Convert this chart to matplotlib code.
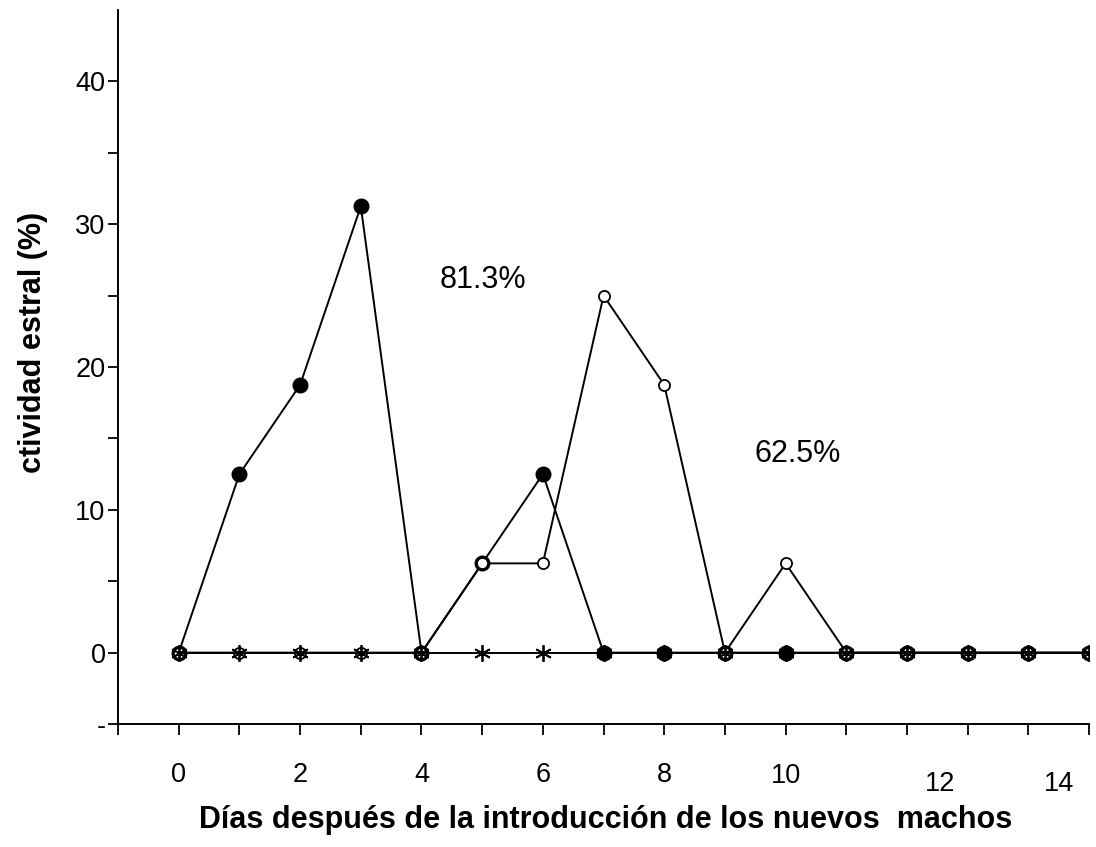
import matplotlib
matplotlib.use("Agg")
import matplotlib.pyplot as plt

plt.rcParams['font.family'] = ['Liberation Sans', 'DejaVu Sans']

# data
days = list(range(0, 16))
filled = [0, 12.5, 18.75, 31.25, 0, 6.25, 12.5, 0, 0, 0, 0, 0, 0, 0, 0, 0]
opened = [0, 0, 0, 0, 0, 6.25, 6.25, 25, 18.75, 0, 6.25, 0, 0, 0, 0, 0]
stars = [0] * 16

ytick_pos = [-5, 0, 10, 20, 30, 40]
ytick_lab = ['-', '0', '10', '20', '30', '40']
yminor = [5, 15, 25, 35]
xlab_pos = [0, 2, 4, 6, 8, 10, 12.55, 14.5]
xlab_txt = ['0', '2', '4', '6', '8', '10', '12', '14']
xlab_drop = [0, 0, 0, 0, 0, 0.2, 1, 1]

fig = plt.figure(figsize=(10.96, 8.47), dpi=100)
ax = fig.add_axes([0.1077, 0.1452, 0.886, 0.843])

ax.plot(days, filled, color='black', lw=1.4, marker='o', ms=10.5,
        mfc='black', mec='black', zorder=3)
ax.plot(days, opened, color='black', lw=1.4, marker='o', ms=8,
        mfc='white', mec='black', mew=1.3, zorder=4)
ax.plot(days, stars, color='black', lw=1.4, marker=(6, 2, 0), ms=12,
        mec='black', mew=1.3, zorder=5)

ax.text(5.02, 26.1, '81.3%', fontsize=22, ha='center', va='center')
ax.text(10.2, 13.9, '62.5%', fontsize=22, ha='center', va='center')

ax.set_xlim(-1, 15)
ax.set_ylim(-5, 45)
ax.spines['top'].set_visible(False)
ax.spines['right'].set_visible(False)
ax.spines['left'].set_linewidth(1.4)
ax.spines['bottom'].set_linewidth(1.4)

ax.set_xticks(range(-1, 16))
ax.set_xticklabels([])
ax.tick_params(axis='x', direction='out', length=8, width=1.3)
for xp, t, d in zip(xlab_pos, xlab_txt, xlab_drop):
    ax.annotate(t, xy=(xp, -5), xycoords='data', xytext=(0, -27 - d * 7),
                textcoords='offset points', ha='center', va='top',
                fontsize=19.5, annotation_clip=False)

ax.set_yticks(ytick_pos)
ax.set_yticklabels(ytick_lab, fontsize=19.5)
ax.set_yticks(yminor, minor=True)
ax.tick_params(axis='y', which='both', direction='out', length=7, width=1.3, pad=2)

fig.text(0.030, 0.596, 'ctividad estral (%)', fontsize=22, fontweight='bold',
         rotation=90, ha='center', va='center')
fig.text(0.553, 0.022, 'Días después de la introducción de los nuevos  machos',
         fontsize=22, fontweight='bold', ha='center', va='baseline')

fig.savefig('out.png', dpi=100)
